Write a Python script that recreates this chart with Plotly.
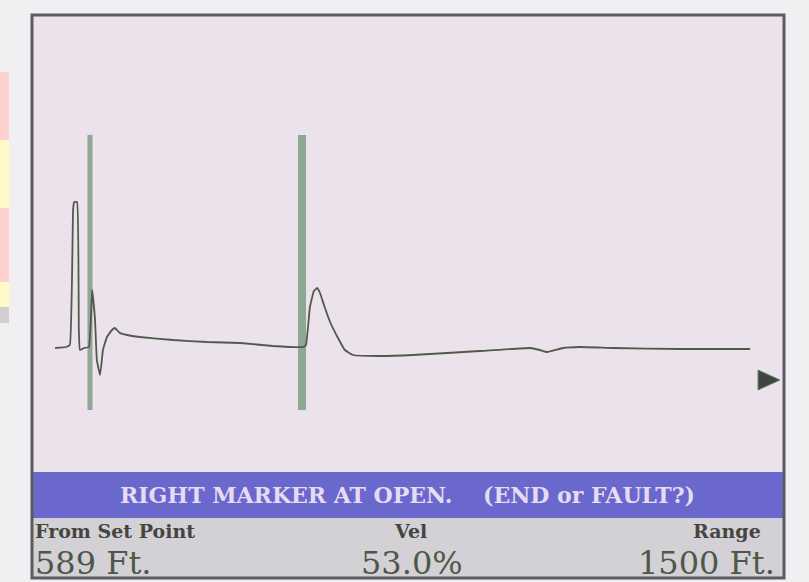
import plotly.graph_objects as go

# ---- data (distance from set point in feet, amplitude in arbitrary units) ----
W, H = 809, 582
FT_PER_PX = 589 / 212.0
PX0 = 90  # set point pixel

trace_ft = [-97, -67, -56, -47, -44, -36, -31, -28, -17, -3, 6, 14, 19, 28, 36, 47, 61, 69, 83, 103,
            139, 231, 325, 417, 508, 592, 600, 611, 622, 631, 639, 650, 667, 689, 708, 731,
            806, 897, 992, 1083, 1222, 1250, 1270, 1314, 1361, 1453, 1639, 1834]
trace_amp = [-1, 0, 2, 137, 145, 145, 17, -3, -1, 0, 57, 27, -13, -28, -3, 10, 17, 19, 14, 12,
             10, 7, 5, 4, 1, 0, 2, 40, 56, 59, 54, 42, 25, 9, -3, -8,
             -9, -8, -6, -4, -1, -3, -5, -1, 0, -1, -2, -2]

marker_ft = [0, 589]
marker_width = [5, 8]

status_text = "RIGHT MARKER AT OPEN.    (END or FAULT?)"
labels = ["From Set Point", "Vel", "Range"]
values = ["589 Ft.", "53.0%", "1500 Ft."]


def px_to_ft(px):
    return (px - PX0) * FT_PER_PX


def py_paper(py):
    return 1 - py / H


def px_paper(px):
    return px / W


fig = go.Figure()
fig.add_trace(go.Scatter(x=trace_ft, y=trace_amp, mode="lines",
                         line=dict(color="#4f5a4b", width=1.8, shape="spline", smoothing=0.3),
                         hoverinfo="skip", showlegend=False))

shapes = []
# page decorations at the far left
for (y0, y1, col) in [(72, 140, "#ffd0d0"), (140, 208, "#fffac8"), (208, 282, "#ffd0d0"),
                      (282, 307, "#fffac8"), (307, 323, "#d0d0d0")]:
    shapes.append(dict(type="rect", xref="paper", yref="paper", layer="below",
                       x0=0, x1=px_paper(9), y0=py_paper(y1), y1=py_paper(y0),
                       fillcolor=col, line=dict(width=0)))
# screen background
shapes.append(dict(type="rect", xref="paper", yref="paper", layer="below",
                   x0=px_paper(32), x1=px_paper(784), y0=py_paper(472), y1=py_paper(15),
                   fillcolor="#ece2eb", line=dict(width=0)))
# status bar
shapes.append(dict(type="rect", xref="paper", yref="paper", layer="below",
                   x0=px_paper(32), x1=px_paper(784), y0=py_paper(518), y1=py_paper(472),
                   fillcolor="#6a68cc", line=dict(width=0)))
# info area
shapes.append(dict(type="rect", xref="paper", yref="paper", layer="below",
                   x0=px_paper(32), x1=px_paper(784), y0=py_paper(578), y1=py_paper(518),
                   fillcolor="#d3d1d5", line=dict(width=0)))
# frame
shapes.append(dict(type="rect", xref="paper", yref="paper", layer="above",
                   x0=px_paper(32), x1=px_paper(784), y0=py_paper(578), y1=py_paper(15),
                   fillcolor="rgba(0,0,0,0)", line=dict(color="#5c5a62", width=3)))
# markers
for xf, wd in zip(marker_ft, marker_width):
    shapes.append(dict(type="line", xref="x", yref="y", layer="below",
                       x0=xf, x1=xf, y0=347 - 135, y1=347 - 410,
                       line=dict(color="#8fa893", width=wd)))
# right arrow
ax0, ax1, ay = 758, 780, 380
shapes.append(dict(type="path", xref="paper", yref="paper", layer="above",
                   path=f"M {px_paper(ax0)} {py_paper(ay-10)} L {px_paper(ax1)} {py_paper(ay)} "
                        f"L {px_paper(ax0)} {py_paper(ay+10)} Z",
                   fillcolor="#3f4440", line=dict(color="#5d8a6a", width=1)))

lab_font = dict(family="DejaVu Serif", size=19, color="#454540", weight="bold")
val_font = dict(family="DejaVu Serif", size=32, color="#4f5848")
annotations = [
    dict(text=status_text, x=px_paper(408), y=py_paper(495), xref="paper", yref="paper",
         showarrow=False, xanchor="center", yanchor="middle",
         font=dict(family="DejaVu Serif", size=22, color="#e4dcf2", weight="bold")),
    dict(text=labels[0], x=px_paper(33), y=py_paper(531), xref="paper", yref="paper",
         showarrow=False, xanchor="left", yanchor="middle", font=lab_font),
    dict(text=labels[1], x=px_paper(410), y=py_paper(531), xref="paper", yref="paper",
         showarrow=False, xanchor="center", yanchor="middle", font=lab_font),
    dict(text=labels[2], x=px_paper(763), y=py_paper(531), xref="paper", yref="paper",
         showarrow=False, xanchor="right", yanchor="middle", font=lab_font),
    dict(text=values[0], x=px_paper(33), y=py_paper(563), xref="paper", yref="paper",
         showarrow=False, xanchor="left", yanchor="middle", font=val_font),
    dict(text=values[1], x=px_paper(412), y=py_paper(563), xref="paper", yref="paper",
         showarrow=False, xanchor="center", yanchor="middle", font=val_font),
    dict(text=values[2], x=px_paper(777), y=py_paper(563), xref="paper", yref="paper",
         showarrow=False, xanchor="right", yanchor="middle", font=val_font),
]

fig.update_layout(
    width=W, height=H, margin=dict(l=0, r=0, t=0, b=0),
    paper_bgcolor="#f2eff2", plot_bgcolor="rgba(0,0,0,0)",
    xaxis=dict(range=[px_to_ft(0), px_to_ft(W)], visible=False, fixedrange=True),
    yaxis=dict(range=[347 - H, 347], visible=False, fixedrange=True),
    shapes=shapes, annotations=annotations, showlegend=False,
)

fig.write_html("out.html", config={"displayModeBar": False},
               post_script="document.body.style.margin='0';document.body.style.overflow='hidden';")
